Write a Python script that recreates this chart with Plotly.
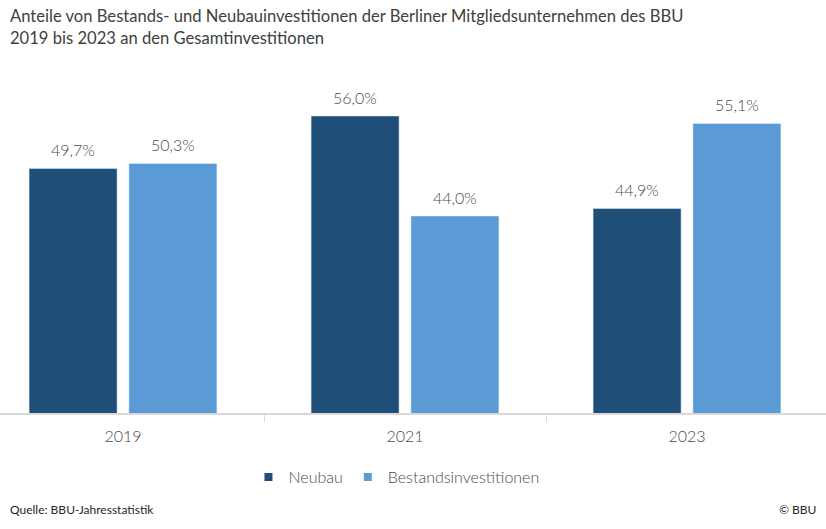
import plotly.graph_objects as go

years = ["2019", "2021", "2023"]
neubau = [49.7, 56.0, 44.9]
bestand = [50.3, 44.0, 55.1]
series_names = ["Neubau", "Bestandsinvestitionen"]

title = ("Anteile von Bestands- und Neubauinvestitionen der Berliner Mitgliedsunternehmen des BBU"
         "<br>2019 bis 2023 an den Gesamtinvestitionen")
source = "Quelle: BBU-Jahresstatistik"
copyright_txt = "© BBU"

DARK = "#1F4E79"
LIGHT = "#5B9BD5"
TXT = "#4a4a4a"
FONT = "Lato"

W, H = 826, 529
fig = go.Figure()

bar_w = 0.312
offsets = [-0.333, 0.021]
colors = [DARK, LIGHT]
for vals, name, col, off in zip([neubau, bestand], series_names, colors, offsets):
    fig.add_bar(x=years, y=vals, name=name, marker_color=col, width=bar_w, offset=off,
                showlegend=False, hoverinfo="skip")
    # legend stand-in
    fig.add_scatter(x=[years[0]], y=[None], mode="markers", name=name,
                    marker=dict(symbol="square", size=8, color=col))
    for i, v in enumerate(vals):
        fig.add_annotation(x=i, y=v, xref="x", yref="y",
                           text=f"{v:.1f}".replace(".", ",") + "%",
                           showarrow=False, xshift=(off + bar_w / 2) * 282,
                           yshift=19, yanchor="middle",
                           font=dict(family=FONT, size=16, color=TXT, weight=300))

top_m, bot_m = 80, 116
plot_h = H - top_m - bot_m
ymin = 20.36
ymax = ymin + plot_h / 8.333

def py(px):
    return (H - bot_m - px) / plot_h

fig.update_layout(
    width=W, height=H,
    margin=dict(l=0, r=0, t=top_m, b=bot_m),
    paper_bgcolor="white", plot_bgcolor="white",
    barmode="overlay",
    xaxis=dict(type="category", range=[-123 / 282, -123 / 282 + W / 282], showline=True,
               linecolor="#d9d9d9", linewidth=2, ticks="outside", tickson="boundaries",
               ticklen=7, tickcolor="#d9d9d9", tickwidth=1, showgrid=False, zeroline=False,
               ticklabelstandoff=8,
               tickfont=dict(family=FONT, size=16, color=TXT, weight=300)),
    yaxis=dict(range=[ymin, ymax], visible=False, showgrid=False, zeroline=False),
    legend=dict(orientation="h", x=0.48, xanchor="center", y=py(477),
                yanchor="middle", font=dict(family=FONT, size=16, color=TXT, weight=300),
                itemwidth=30, tracegroupgap=0),
    showlegend=True,
)

fig.add_annotation(text=title, xref="paper", yref="paper", x=8 / W, xanchor="left",
                   y=py(27), yanchor="middle", align="left", showarrow=False,
                   font=dict(family=FONT, size=16.6, color="#404040"))
fig.add_annotation(text=source, xref="paper", yref="paper", x=8 / W, xanchor="left",
                   y=py(509), yanchor="middle", showarrow=False,
                   font=dict(family=FONT, size=12, color="#262626"))
fig.add_annotation(text=copyright_txt, xref="paper", yref="paper", x=818 / W, xanchor="right",
                   y=py(509), yanchor="middle", showarrow=False,
                   font=dict(family=FONT, size=12, color="#262626"))

fig.write_html("out.html", config={"displayModeBar": False},
               post_script="document.body.style.margin='0';")
